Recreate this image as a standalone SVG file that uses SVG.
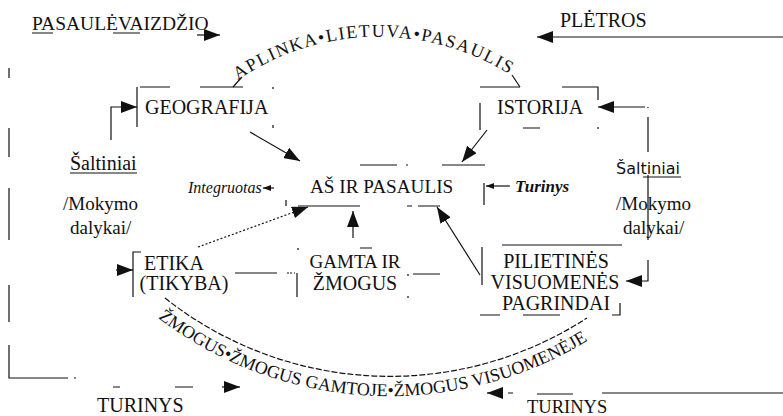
<svg xmlns="http://www.w3.org/2000/svg" width="783" height="416" viewBox="0 0 783 416">
<style>
  .t{font-family:"Liberation Serif","Times New Roman",serif;font-size:20px;fill:#111}
  .c{text-anchor:middle}
  .it{font-style:italic;font-size:16px}
  .sans{font-family:"DejaVu Sans",sans-serif;font-size:16px;fill:#111}
  .arc{font-family:"Liberation Serif","Times New Roman",serif;font-size:18px;fill:#111}
  .ln{stroke:#111;stroke-width:1.2;fill:none}
  .dot{stroke-dasharray:2 2}
  .dash{stroke-dasharray:6 2}
</style>
<defs>
  <marker id="arr" viewBox="0 0 16 12" refX="16" refY="6" markerWidth="16" markerHeight="12" markerUnits="userSpaceOnUse" orient="auto">
    <path d="M0,0 L16,6 L0,12 Z" fill="#111"/>
  </marker>
  <marker id="arrS" viewBox="0 0 8 6" refX="8" refY="3" markerWidth="8" markerHeight="6" markerUnits="userSpaceOnUse" orient="auto">
    <path d="M0,0 L8,3 L0,6 Z" fill="#111"/>
  </marker>
  <path id="arcTop" d="M 238 80 A 248 248 0 0 1 515 78"/>
  <path id="arcBot" d="M 158 318 A 382 382 0 0 0 592 338"/>
</defs>

<g id="labels">
  <text class="t" x="32" y="30" style="font-size:19.5px">PASAULĖVAIZDŽIO</text>
  <path class="ln" d="M32 33 H53 M113 33 H140"/>
  <text class="t" x="560" y="27">PLĖTROS</text>
  <text class="t" x="97" y="412">TURINYS</text>
  <text class="t" x="527" y="413" style="font-size:18.5px">TURINYS</text>
  <text class="t" x="70" y="170">Šaltiniai</text>
  <path class="ln" d="M70 173 H137"/>
  <text class="t" x="63" y="210" style="font-size:19px">/Mokymo</text>
  <text class="t" x="70" y="234" style="font-size:19px">dalykai/</text>
  <text class="sans" x="616" y="174">Šaltiniai</text>
  <path class="ln" d="M643 177 H681"/>
  <text class="t" x="616" y="210" style="font-size:19px">/Mokymo</text>
  <text class="t" x="623" y="234" style="font-size:19px">dalykai/</text>
  <text class="t it" x="188" y="193">Integruotas</text>
  <text class="t it" x="515" y="192" style="font-size:17px;font-weight:bold">Turinys</text>
</g>

<g id="arc-top">
  <text class="arc" style="letter-spacing:1.5px"><textPath href="#arcTop">APLINKA•LIETUVA•PASAULIS</textPath></text>
  <path class="ln" d="M233 87 L242 77 M512 75 L520 87"/>
</g>

<g id="arc-bottom">
  <path class="ln dash" d="M 165 298 A 362 362 0 0 0 587 318"/>
  <text class="arc" style="letter-spacing:0px"><textPath href="#arcBot">ŽMOGUS•ŽMOGUS GAMTOJE•ŽMOGUS VISUOMENĖJE</textPath></text>
</g>

<g id="geografija">
  <path class="ln" d="M140 87 H170 M200 87 H243 M137 87 V127"/>
  <path class="ln" d="M273 87 v2 M273 125 v3"/>
  <text class="t" x="145" y="114">GEOGRAFIJA</text>
</g>

<g id="istorija">
  <path class="ln" d="M480 87 H520 M562 87 H598 V100 M480 103 V130 M523 128 H540 M598 127 v2"/>
  <text class="t" x="497" y="114">ISTORIJA</text>
</g>

<g id="as-ir-pasaulis">
  <path class="ln" d="M360 165 H397 M406 165 h2 M442 165 H485 M484 183 V205 M286 200 V206 M298 206 H360 M407 206 H412 M418 206 H440"/>
  <text class="t" x="310" y="193" style="font-size:19.2px">AŠ IR PASAULIS</text>
</g>

<g id="etika">
  <path class="ln" d="M141 252 H133 V297 M235 273 H277 M287 273 h2"/>
  <text class="t c" x="174" y="270">ETIKA</text>
  <text class="t c" x="184" y="290">(TIKYBA)</text>
</g>

<g id="gamta-ir-zmogus">
  <path class="ln" d="M360 248 H372 M298 248 v2 M297 273 V297 M290 273 h2 M294 273 h1 M413 274 H440 M408 274 v2 M408 296 v2"/>
  <text class="t c" x="355" y="268" style="font-size:19px">GAMTA IR</text>
  <text class="t c" x="355" y="290">ŽMOGUS</text>
</g>

<g id="pilietines">
  <path class="ln" d="M502 245 H622 M482 247 V285 M480 315 H500 M523 315 H560 M612 315 H620 V303"/>
  <text class="t c" x="556" y="268">PILIETINĖS</text>
  <text class="t c" x="555" y="289">VISUOMENĖS</text>
  <text class="t c" x="556" y="310">PAGRINDAI</text>
</g>

<g id="connectors">
  <path class="ln" d="M197 35 L220 35" marker-end="url(#arr)"/>
  <path class="ln" d="M783 37 L537 37" marker-end="url(#arr)"/>
  <path class="ln" d="M111 140 V107 H137" marker-end="url(#arr)"/>
  <path class="ln" d="M250 132 L300 161" marker-end="url(#arr)"/>
  <path class="ln" d="M645 107 L598 107" marker-end="url(#arr)"/>
  <path class="ln" d="M648 107 v1 M648 117 V152 M648 175 V240"/>
  <path class="ln" d="M648 260 V281 H626" marker-end="url(#arr)"/>
  <path class="ln" d="M487 130 L462 162" marker-end="url(#arr)"/>
  <path class="ln" d="M353 238 L353 211" marker-end="url(#arr)"/>
  <path class="ln dot" d="M198 247 L308 207" marker-end="url(#arr)"/>
  <path class="ln" d="M480 275 L437 207" marker-end="url(#arr)"/>
  <path class="ln" d="M116 270 L133 270" marker-end="url(#arr)"/>
  <path class="ln" d="M274 188 L263 188" marker-end="url(#arrS)"/>
  <path class="ln" d="M510 186 L486 186" marker-end="url(#arrS)"/>
  <path class="ln" d="M9 68 V78 M9 128 V157 M9 188 V240 M9 285 V322 M9 345 V378 H68 M74 378 h2 M113 387 H120 M175 387 H193"/>
  <path class="ln" d="M222 387 L240 387" marker-end="url(#arr)"/>
  <path class="ln" d="M783 393 L602 393 M573 394 H537 M513 393 H508"/>
  <path class="ln" d="M503 393 L487 393" marker-end="url(#arr)"/>
</g>
</svg>
